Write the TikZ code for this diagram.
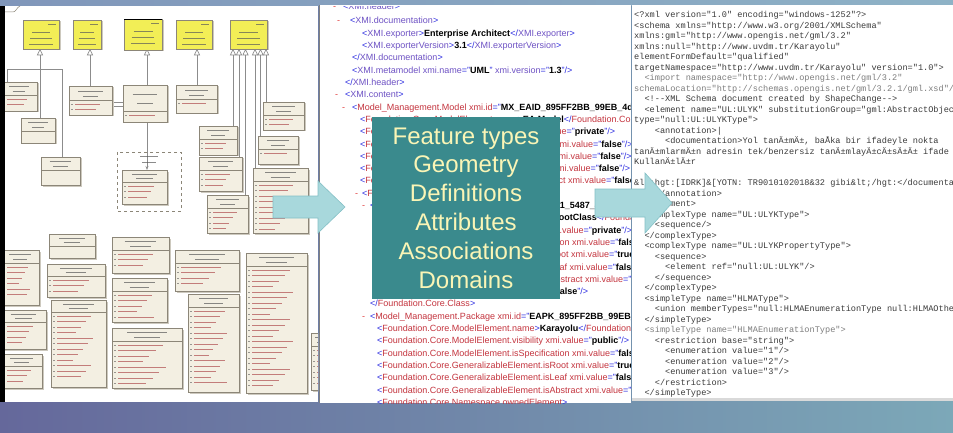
\documentclass[tikz,border=0pt]{standalone}
\usepackage{fontspec}
\setmainfont{Liberation Sans}
\newfontfamily\xsdfont{Liberation Mono}
\usetikzlibrary{arrows.meta}

\definecolor{slideL}{RGB}{101,104,155}
\definecolor{slideR}{RGB}{124,168,184}
\definecolor{bandL}{RGB}{128,150,186}
\definecolor{bandR}{RGB}{142,178,198}
\definecolor{tealbox}{RGB}{58,138,141}
\definecolor{tealtext}{RGB}{250,245,182}
\definecolor{arrowfill}{RGB}{168,216,220}
\definecolor{arrowedge}{RGB}{132,192,198}
\definecolor{xbr}{RGB}{45,45,225}
\definecolor{xnm}{RGB}{196,52,62}
\definecolor{xnp}{RGB}{110,82,196}
\definecolor{xdash}{RGB}{225,60,60}
\definecolor{xsdtext}{RGB}{58,58,58}
\definecolor{xsdlight}{RGB}{125,125,125}
\definecolor{umlfill}{RGB}{243,239,226}
\definecolor{umledge}{RGB}{140,134,120}
\definecolor{umlshadow}{RGB}{205,201,190}
\definecolor{umlred}{RGB}{176,78,78}
\definecolor{umldark}{RGB}{90,90,90}
\definecolor{umlyellow}{RGB}{242,238,86}
\definecolor{linkgray}{RGB}{140,140,140}

% XMI (XML tree view) colouring helpers
\newcommand\mxo[1]{\textcolor{xbr}{<}\textcolor{xnm}{#1}}
\newcommand\mxp[1]{\textcolor{xbr}{<}\textcolor{xnp}{#1}}
\newcommand\mxc[1]{\textcolor{xbr}{</}\textcolor{xnm}{#1}\textcolor{xbr}{>}}
\newcommand\mxcp[1]{\textcolor{xbr}{</}\textcolor{xnp}{#1}\textcolor{xbr}{>}}
\newcommand\mxe{\textcolor{xbr}{>}}
\newcommand\mxse{\textcolor{xbr}{\space/>}}
\newcommand\mxa[2]{\space\textcolor{xnm}{#1}\textcolor{xbr}{="}\textbf{#2}\textcolor{xbr}{"}}
\newcommand\mxap[2]{\space\textcolor{xnp}{#1}\textcolor{xbr}{="}\textbf{#2}\textcolor{xbr}{"}}

% XSD listing line: name, indent (characters), baseline, text
\newcommand\xsdl[4]{\node[xsd] (#1) at ({634+5.16*#2},#3) {#4};}
\newcommand\xsdg[4]{\node[xsd,text=xsdlight] (#1) at ({634+5.16*#2},#3) {#4};}

% UML class box: x1, y1, x2, y2, header height, number of attribute rows
\newcommand\umlcls[6]{%
  \fill[umlshade] ({#1+1.5},{#2+1.5}) rectangle ({#3+1.5},{#4+1.5});
  \path[umlbody] (#1,#2) rectangle (#3,#4);
  \draw[umlsep] (#1,{#2+#5}) -- (#3,{#2+#5});
  \draw[umlhead] ({(#1+#3)/2-0.28*(#3-#1)},{#2+#5*0.36}) -- ++({0.56*(#3-#1)},0);
  \draw[umlhead,line width=1pt] ({(#1+#3)/2-0.18*(#3-#1)},{#2+#5*0.72}) -- ++({0.36*(#3-#1)},0);
  \ifnum#6>0
    \foreach \attrno in {1,...,#6}{
      \pgfmathsetmacro\umlw{(0.35+0.055*mod(\attrno*7,9))*(#3-#1-9)}
      \draw[umlattr] ({#1+6},{#2+#5+\attrno*5.5-1.5}) -- ++(\umlw,0);
      \draw[umlmark] ({#1+2.3},{#2+#5+\attrno*5.5-1.5}) -- ++(1.6,0);
    }
  \fi
}
% UML package/abstract box in yellow
\newcommand\umlpkg[4]{%
  \fill[umlshade] ({#1+1.5},{#2+1.5}) rectangle ({#3+1.5},{#4+1.5});
  \path[ybody] (#1,#2) rectangle (#3,#4);
  \draw[umlhead,line width=0.6pt] ({#3-11},{#2+4}) -- ({#3-3},{#2+4});
  \draw[umlhead] ({(#1+#3)/2-0.25*(#3-#1)},{#2+12}) -- ++({0.5*(#3-#1)},0);
  \draw[umlhead] ({(#1+#3)/2-0.3*(#3-#1)},{#2+18}) -- ++({0.6*(#3-#1)},0);
  \draw[umlhead] ({(#1+#3)/2-0.32*(#3-#1)},{#2+24}) -- ++({0.64*(#3-#1)},0);
}

\begin{document}
\begin{tikzpicture}[x=1pt,y=-1pt,
  xmi/.style={anchor=base west,inner sep=0pt,font=\fontsize{9}{11}\selectfont},
  xsd/.style={anchor=base west,inner sep=0pt,font=\xsdfont\fontsize{8.6}{10}\selectfont,text=xsdtext},
  umlshade/.style={fill=umlshadow},
  umlbody/.style={fill=umlfill,draw=umledge,line width=0.5pt},
  umlsep/.style={draw=umledge,line width=0.4pt},
  umlhead/.style={draw=umldark,line width=0.8pt,opacity=0.7},
  umlattr/.style={draw=umlred,line width=0.9pt,opacity=0.7},
  umlmark/.style={draw=umldark,line width=0.6pt,opacity=0.6},
  ybody/.style={fill=umlyellow,draw=umledge,line width=0.5pt},
  umllink/.style={draw=linkgray,line width=0.7pt},
  bigarrow/.style={fill=arrowfill,draw=arrowedge,line width=0.6pt},
]
\useasboundingbox (0,0) rectangle (953,433);

% slide background
\shade[left color=slideL,right color=slideR] (0,0) rectangle (953,433);
\shade[left color=bandL,right color=bandR] (0,0) rectangle (953,6);

% three screenshot panels
\fill[white] (0,6) rectangle (318,402);
\fill[white] (319,5) rectangle (631,403);
\fill[white] (632,5) rectangle (953,400);

% ---------- UML class diagram ----------
\begin{scope}
\clip (5,6) rectangle (318,402);
\draw[umledge,line width=0.5pt] (5,12) -- (13,12) .. controls (16,12) and (17,7) .. (20,6);
% generalisation links
\draw[umllink] (40,55) -- (40,118);
\draw[umllink] (7,82) -- (7,69) -- (62,69) -- (62,157);
\draw[umllink] (90,55) -- (90,86);
\draw[umllink] (147,55) -- (147,85);
\draw[umllink,-{Stealth[length=4pt,width=3pt]}] (147,122) -- (147,170);
\draw[umllink] (112,102) -- (123,102);
\draw[umllink] (112,106) -- (123,106);
\draw[umllink] (197,55) -- (197,85);
\foreach \lx/\ly in {233/126,239/157,245.5/195,255/168,260.5/136,266/102}
  \draw[umllink] (\lx,55) -- (\lx,\ly);
\foreach \tx in {40,90,147,197,233,239,245.5,255,260.5,266}
  \draw[umllink,fill=white] (\tx,49.5) -- (\tx-2.6,55) -- (\tx+2.6,55) -- cycle;
% package frame
\draw[umledge,dashed,line width=0.5pt] (117,152) rectangle (181,211);
\draw[umlhead] (140,156) -- (158,156);
\draw[umlhead] (142,162) -- (156,162);
% abstract parents
\umlpkg{23}{20}{59}{49}
\umlpkg{73}{20}{101}{49}
\umlpkg{124}{19}{162}{50}
\draw[black,line width=1.2pt] (124,19.5) -- (162,19.5);
\umlpkg{176}{20}{212}{49}
\umlpkg{230}{20}{267}{49}
% feature types, upper part
\umlcls{1}{82}{37}{111}{13}{2}
\umlcls{21}{118}{55}{143}{13}{0}
\umlcls{41}{157}{80}{185}{13}{0}
\umlcls{69}{86}{112}{115}{14}{2}
\umlcls{123}{85}{167}{122}{26}{1}
\umlcls{176}{85}{217}{113}{14}{1}
\umlcls{122}{170}{167}{204}{12}{3}
\umlcls{199}{126}{237}{155}{13}{2}
\umlcls{199}{157}{242}{191}{13}{3}
\umlcls{263}{102}{304}{130}{13}{2}
\umlcls{258}{136}{298}{164}{13}{1}
\umlcls{253}{168}{308}{233}{13}{9}
\umlcls{207}{195}{248}{233}{13}{4}
% code lists, lower part
\umlcls{1}{250}{39}{305}{13}{6}
\umlcls{49}{234}{95}{258}{12}{0}
\umlcls{47}{264}{105}{297}{12}{3}
\umlcls{51}{300}{106}{387}{12}{12}
\umlcls{1}{310}{46}{349}{12}{4}
\umlcls{1}{354}{42}{388}{12}{3}
\umlcls{112}{237}{169}{273}{13}{3}
\umlcls{112}{278}{167}{322}{13}{5}
\umlcls{112}{328}{182}{388}{13}{8}
\umlcls{175}{250}{239}{291}{13}{4}
\umlcls{188}{294}{239}{392}{13}{14}
\umlcls{246}{253}{307}{393}{13}{22}
\umlcls{311}{333}{330}{390}{13}{7}
\end{scope}
\fill[black] (0,6) rectangle (5,402);
\draw[gray,line width=1pt] (319,5) -- (319,403);

% ---------- XMI export ----------
\begin{scope}
\clip (320,6.5) rectangle (630,403);
\node[xmi,text=xdash] (d1) at (333,10) {-};
\node[xmi] (m1) at (343,10) {\mxp{XMI.header}\mxe};
\node[xmi,text=xdash] (d2) at (337,24.0) {-};
\node[xmi] (m2) at (350,24.0) {\mxp{XMI.documentation}\mxe};
\node[xmi] (m3) at (362,36.3) {\mxp{XMI.exporter}\mxe\textbf{Enterprise Architect}\mxcp{XMI.exporter}};
\node[xmi] (m4) at (362,48.6) {\mxp{XMI.exporterVersion}\mxe\textbf{3.1}\mxcp{XMI.exporterVersion}};
\node[xmi] (m5) at (352,60.9) {\mxcp{XMI.documentation}};
\node[xmi] (m6) at (352,73.2) {\mxp{XMI.metamodel}\mxap{xmi.name}{UML}\mxap{xmi.version}{1.3}\mxse};
\node[xmi] (m7) at (345,85.5) {\mxcp{XMI.header}};
\node[xmi,text=xdash] (d8) at (335,97.8) {-};
\node[xmi] (m8) at (345,97.8) {\mxp{XMI.content}\mxe};
\node[xmi,text=xdash] (d9) at (342,110.1) {-};
\node[xmi] (m9) at (352,110.1) {\mxo{Model\_Management.Model}\mxa{xmi.id}{MX\_EAID\_895FF2BB\_99EB\_4d4b\_A0E2\_8F5B16F9C1F7}\mxe};
\node[xmi] (m10) at (360,122.4) {\mxo{Foundation.Core.ModelElement.name}\mxe\textbf{EA Model}\mxc{Foundation.Core.ModelElement.name}};
\node[xmi] (m11) at (360,134.7) {\mxo{Foundation.Core.ModelElement.visibility}\mxa{xmi.value}{private}\mxse};
\node[xmi] (m12) at (360,147.0) {\mxo{Foundation.Core.ModelElement.isSpecification}\mxa{xmi.value}{false}\mxse};
\node[xmi] (m13) at (360,159.3) {\mxo{Foundation.Core.GeneralizableElement.isRoot}\mxa{xmi.value}{false}\mxse};
\node[xmi] (m14) at (360,171.6) {\mxo{Foundation.Core.GeneralizableElement.isLeaf}\mxa{xmi.value}{false}\mxse};
\node[xmi] (m15) at (360,183.9) {\mxo{Foundation.Core.GeneralizableElement.isAbstract}\mxa{xmi.value}{false}\mxse};
\node[xmi,text=xdash] (d16) at (355,196.2) {-};
\node[xmi] (m16) at (362,196.2) {\mxo{Foundation.Core.Namespace.ownedElement}\mxe};
\node[xmi,text=xdash] (d17) at (362,208.5) {-};
\node[xmi] (m17) at (370,208.5) {\mxo{Foundation.Core.Class}\mxa{xmi.id}{EAID\_11111111\_5487\_4080\_A7F4\_41526CB0AA00}\mxe};
\node[xmi] (m18) at (377,220.8) {\mxo{Foundation.Core.ModelElement.name}\mxe\textbf{EARootClass}\mxc{Foundation.Core.ModelElement.name}};
\node[xmi] (m19) at (377,233.1) {\mxo{Foundation.Core.ModelElement.visibility}\mxa{xmi.value}{private}\mxse};
\node[xmi] (m20) at (377,245.4) {\mxo{Foundation.Core.ModelElement.isSpecification}\mxa{xmi.value}{false}\mxse};
\node[xmi] (m21) at (377,257.7) {\mxo{Foundation.Core.GeneralizableElement.isRoot}\mxa{xmi.value}{true}\mxse};
\node[xmi] (m22) at (377,270.0) {\mxo{Foundation.Core.GeneralizableElement.isLeaf}\mxa{xmi.value}{false}\mxse};
\node[xmi] (m23) at (377,282.3) {\mxo{Foundation.Core.GeneralizableElement.isAbstract}\mxa{xmi.value}{false}\mxse};
\node[xmi] (m24) at (377,294.6) {\mxo{Foundation.Core.Class.isActive}\mxa{xmi.value}{false}\mxse};
\node[xmi] (m25) at (370,306.9) {\mxc{Foundation.Core.Class}};
\node[xmi,text=xdash] (d26) at (362,319.2) {-};
\node[xmi] (m26) at (370,319.2) {\mxo{Model\_Management.Package}\mxa{xmi.id}{EAPK\_895FF2BB\_99EB\_4d4b\_A0E2\_8F5B16F9C1F7}\mxe};
\node[xmi] (m27) at (377,331.5) {\mxo{Foundation.Core.ModelElement.name}\mxe\textbf{Karayolu}\mxc{Foundation.Core.ModelElement.name}};
\node[xmi] (m28) at (377,343.8) {\mxo{Foundation.Core.ModelElement.visibility}\mxa{xmi.value}{public}\mxse};
\node[xmi] (m29) at (377,356.1) {\mxo{Foundation.Core.ModelElement.isSpecification}\mxa{xmi.value}{false}\mxse};
\node[xmi] (m30) at (377,368.4) {\mxo{Foundation.Core.GeneralizableElement.isRoot}\mxa{xmi.value}{true}\mxse};
\node[xmi] (m31) at (377,380.7) {\mxo{Foundation.Core.GeneralizableElement.isLeaf}\mxa{xmi.value}{false}\mxse};
\node[xmi] (m32) at (377,393.0) {\mxo{Foundation.Core.GeneralizableElement.isAbstract}\mxa{xmi.value}{false}\mxse};
\node[xmi] (m33) at (377,405.3) {\mxo{Foundation.Core.Namespace.ownedElement}\mxe};
\end{scope}

% ---------- GML application schema ----------
\begin{scope}
\clip (632,5) rectangle (953,397.5);
\xsdl{r1}{0}{17.8}{<?xml version="1.0" encoding="windows-1252"?>}
\xsdl{r2}{0}{28.3}{<schema xmlns="http://www.w3.org/2001/XMLSchema"}
\xsdl{r3}{0}{38.8}{xmlns:gml="http://www.opengis.net/gml/3.2"}
\xsdl{r4}{0}{49.3}{xmlns:null="http://www.uvdm.tr/Karayolu"}
\xsdl{r5}{0}{59.8}{elementFormDefault="qualified"}
\xsdl{r6}{0}{70.3}{targetNamespace="http://www.uvdm.tr/Karayolu" version="1.0">}
\xsdg{r7}{2}{80.8}{<import namespace="http://www.opengis.net/gml/3.2"}
\xsdg{r8}{0}{91.3}{schemaLocation="http://schemas.opengis.net/gml/3.2.1/gml.xsd"/>}
\xsdl{r9}{2}{101.8}{<!-{}-XML Schema document created by ShapeChange-{}->}
\xsdl{r10}{2}{112.3}{<element name="UL:ULYK" substitutionGroup="gml:AbstractObject"}
\xsdl{r11}{0}{122.8}{type="null:UL:ULYKType">}
\xsdl{r12}{4}{133.3}{<annotation>|}
\xsdl{r13}{6}{143.8}{<documentation>Yol tanÄ±mÄ±, baÅka bir ifadeyle nokta}
\xsdl{r14}{0}{154.3}{tanÄ±mlarmÄ±n adresin tek/benzersiz tanÄ±mlayÄ±cÄ±sÄ±Ä± ifade}
\xsdl{r15}{0}{164.8}{KullanÄ±lÄ±r}
\xsdl{r17}{0}{185.8}{\&lt;hgt:[IDRK]\&[YOTN: TR9010102018\&32 gibi\&lt;/hgt:</documentation>}
\xsdl{r18}{4}{196.3}{</annotation>}
\xsdl{r19}{2}{206.8}{</element>}
\xsdl{r20}{2}{217.3}{<complexType name="UL:ULYKType">}
\xsdl{r21}{4}{227.8}{<sequence/>}
\xsdl{r22}{2}{238.3}{</complexType>}
\xsdl{r23}{2}{248.8}{<complexType name="UL:ULYKPropertyType">}
\xsdl{r24}{4}{259.3}{<sequence>}
\xsdl{r25}{6}{269.8}{<element ref="null:UL:ULYK"/>}
\xsdl{r26}{4}{280.3}{</sequence>}
\xsdl{r27}{2}{290.8}{</complexType>}
\xsdl{r28}{2}{301.3}{<simpleType name="HLMAType">}
\xsdl{r29}{4}{311.8}{<union memberTypes="null:HLMAEnumerationType null:HLMAOther"/>}
\xsdl{r30}{2}{322.3}{</simpleType>}
\xsdg{r31}{2}{332.8}{<simpleType name="HLMAEnumerationType">}
\xsdl{r32}{4}{343.3}{<restriction base="string">}
\xsdl{r33}{6}{353.8}{<enumeration value="1"/>}
\xsdl{r34}{6}{364.3}{<enumeration value="2"/>}
\xsdl{r35}{6}{374.8}{<enumeration value="3"/>}
\xsdl{r36}{4}{385.3}{</restriction>}
\xsdl{r37}{2}{395.8}{</simpleType>}
\end{scope}
\fill[gray!30] (632,397.5) rectangle (953,400.5);

% ---------- transformation arrows ----------
\path[bigarrow] (273,196) -- (318,196) -- (318,181) -- (345,207) -- (318,233) -- (318,218) -- (273,218) -- cycle;
\path[bigarrow] (595,189) -- (645,189) -- (645,173) -- (672,203) -- (645,233) -- (645,217) -- (595,217) -- cycle;

% ---------- content summary ----------
\node[fill=tealbox,text=tealtext,minimum width=188pt,minimum height=182pt,inner sep=0pt,
      align=center,font=\fontsize{24}{28.8}\selectfont] (topics) at (466,208)
  {Feature types\\Geometry\\Definitions\\Attributes\\Associations\\Domains};
\end{tikzpicture}
\end{document}
